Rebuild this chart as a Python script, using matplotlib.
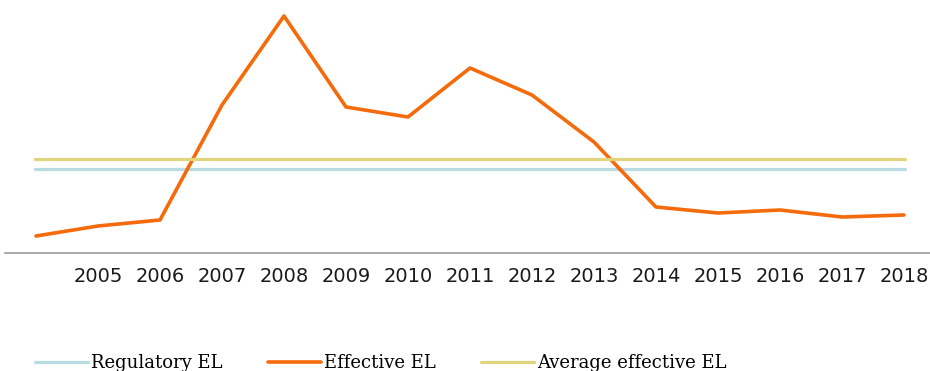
import numpy as np
import matplotlib.pyplot as plt

years = ['', '2005', '2006', '2007', '2008', '2009', '2010', '2011',
         '2012', '2013', '2014', '2015', '2016', '2017', '2018']
effective_el = [0.17, 0.27, 0.33, 1.48, 2.37, 1.46, 1.36, 1.85,
                1.58, 1.11, 0.46, 0.40, 0.43, 0.36, 0.38]
regulatory_el = 0.84
average_el = 0.94

fig = plt.figure(figsize=(9.3, 3.71), dpi=100)
ax = fig.add_axes([5 / 930, 118 / 371, 925 / 930, 253 / 371])

x = np.arange(len(years))
ax.plot([-0.02, x[-1] + 0.02], [regulatory_el] * 2, color='#b9dce3',
        linewidth=2.3, solid_capstyle='round', label='Regulatory EL')
ax.plot(x, effective_el, color='#f56a0a', linewidth=2.6,
        solid_capstyle='round', label='Effective EL')
ax.plot([-0.02, x[-1] + 0.02], [average_el] * 2, color='#e0d47c',
        linewidth=2.3, solid_capstyle='round', label='Average effective EL')

ax.set_xlim(-0.5, 14.42)
ax.set_ylim(0, 2.53)
ax.set_xticks(x)
ax.set_xticklabels(years, fontsize=14, family='DejaVu Sans')
ax.tick_params(axis='x', length=0, pad=10, colors='#1a1a1a')
ax.set_yticks([])
for side in ['left', 'right', 'top']:
    ax.spines[side].set_visible(False)
ax.spines['bottom'].set_color('#9a9a9a')
ax.spines['bottom'].set_linewidth(1.2)

fig.legend(loc='center left', bbox_to_anchor=(35 / 930, 1 - 363 / 371),
           ncol=3, frameon=False, handlelength=2.95, handletextpad=0.17,
           columnspacing=2.5, borderaxespad=0, borderpad=0,
           prop={'family': 'DejaVu Serif', 'size': 13})

fig.savefig('out.png', dpi=100)
